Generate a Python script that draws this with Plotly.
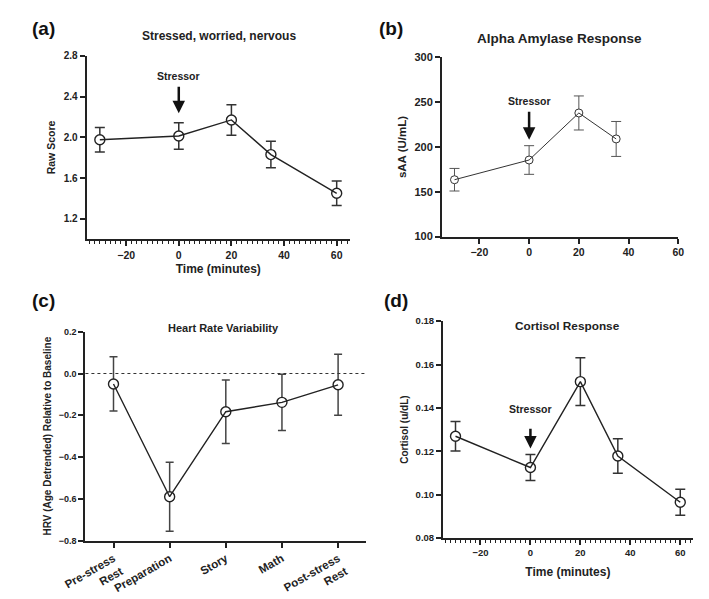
import plotly.graph_objects as go

W, H = 709, 599

# ---------------- data ----------------
time_a = [-30, 0, 20, 35, 60]
stress_mean = [1.975, 2.012, 2.17, 1.83, 1.45]
stress_err = [0.12, 0.13, 0.15, 0.13, 0.12]

time_b = [-30, 0, 20, 35]
saa_mean = [163.5, 185.5, 238, 209]
saa_err = [12.6, 16, 19, 19.5]

hrv_cats = ["Pre-stress<br>Rest", "Preparation", "Story", "Math", "Post-stress<br>Rest"]
hrv_mean = [-0.05, -0.59, -0.183, -0.138, -0.054]
hrv_err = [0.13, 0.165, 0.152, 0.135, 0.146]

time_d = [-30, 0, 20, 35, 60]
cort_mean = [0.1269, 0.1125, 0.1521, 0.1178, 0.0965]
cort_err = [0.0068, 0.006, 0.011, 0.0079, 0.006]

time_ticks = [-20, 0, 20, 40, 60]

FONT = "Liberation Sans, Arial, sans-serif"
INK = "#222222"

fig = go.Figure()


def dx(px):
    return px / W


def dy(px):
    return 1 - px / H


def add_series(x, y, err, xa, ya, msize, lw, ecol, ethick, ewidth, lcol=INK):
    fig.add_trace(go.Scatter(
        x=x, y=y, mode="markers", xaxis=xa, yaxis=ya, showlegend=False,
        marker=dict(size=msize, color="white", line=dict(color=lcol, width=lw)),
        error_y=dict(type="data", array=err, visible=True, color=ecol,
                     thickness=ethick, width=ewidth),
    ))
    fig.add_trace(go.Scatter(
        x=x, y=y, mode="lines", xaxis=xa, yaxis=ya, showlegend=False,
        line=dict(color=lcol, width=lw),
    ))


add_series(time_a, stress_mean, stress_err, "x", "y", 10, 1.4, "#333333", 1.5, 5)
add_series(time_b, saa_mean, saa_err, "x2", "y2", 8, 1.0, "#555555", 1.0, 5, lcol="#333333")
add_series(hrv_cats, hrv_mean, hrv_err, "x3", "y3", 10, 1.4, "#444444", 1.5, 4)
add_series(time_d, cort_mean, cort_err, "x4", "y4", 10, 1.4, "#333333", 1.5, 5)


def axis(domain, anchor, rng, tsize=10, title=None, tt_size=11, standoff=6, **kw):
    d = dict(
        domain=domain, anchor=anchor, range=rng,
        showline=True, linecolor=INK, linewidth=2, mirror=False,
        ticks="outside", ticklen=5, tickwidth=1.5, tickcolor=INK,
        showgrid=False, zeroline=False,
        tickfont=dict(family=FONT, size=tsize, color=INK, weight="bold"),
    )
    if title:
        d["title"] = dict(text="<b>%s</b>" % title, standoff=standoff,
                          font=dict(family=FONT, size=tt_size, color=INK))
    d.update(kw)
    return d


minor = dict(ticks="outside", dtick=2, ticklen=3, tickwidth=1, tickcolor=INK, showgrid=False)

fig.update_layout(
    width=W, height=H, margin=dict(l=0, r=0, t=0, b=0),
    paper_bgcolor="white", plot_bgcolor="white",
    font=dict(family=FONT, color=INK),
    xaxis=axis([dx(59), dx(333)], "y", [-35, 65], tsize=10.5, title="Time (minutes)",
               tt_size=12, standoff=5, tickvals=time_ticks, minor=minor),
    yaxis=axis([dy(233.3), dy(43.3)], "x", [1.0, 2.8], tsize=10, title="Raw Score",
               tt_size=10.5, standoff=6, tick0=1.2, dtick=0.4, tickformat=".1f"),
    xaxis2=axis([dx(429), dx(675)], "y2", [-35, 60], tsize=10.5, tickvals=time_ticks),
    yaxis2=axis([dy(230.7), dy(45)], "x2", [100, 300], tsize=11, title="sAA (U/mL)",
                tt_size=11.5, standoff=5, dtick=50),
    xaxis3=axis([dx(57.7), dx(350)], "y3", [-0.5, 4.5], tsize=11.5, type="category",
                tickangle=-30),
    yaxis3=axis([dy(545.7), dy(329.3)], "x3", [-0.8, 0.2], tsize=9,
                title="HRV (Age Detrended) Relative to Baseline", tt_size=10, standoff=5,
                dtick=0.2, tickformat=".1f"),
    xaxis4=axis([dx(430), dx(690)], "y4", [-35, 65], tsize=9.5, title="Time (minutes)",
                tt_size=12, standoff=10, tickvals=time_ticks, minor=minor),
    yaxis4=axis([dy(543), dy(318.3)], "x4", [0.08, 0.18], tsize=9.5, title="Cortisol (u/dL)",
                tt_size=10, standoff=5, dtick=0.02, tickformat=".2f"),
)

# zero reference line in panel (c)
fig.add_shape(type="line", xref="x3 domain", yref="y3", x0=0, x1=1, y0=0, y1=0,
              line=dict(color="#333333", width=1, dash="dot"))

anns = []
for txt, x, y in [("(a)", 0, 15), ("(b)", 361, 15), ("(c)", 0, 297), ("(d)", 366, 297)]:
    anns.append(dict(text="<b>%s</b>" % txt, xref="paper", yref="paper", x=dx(x), y=dy(y),
                     xanchor="left", yanchor="middle", showarrow=False,
                     font=dict(family=FONT, size=19, color="#111111")))
for txt, x, y, s in [("Stressed, worried, nervous", 197, 23, 12),
                     ("Alpha Amylase Response", 551.7, 25, 13.5),
                     ("Heart Rate Variability", 201.7, 325, 11),
                     ("Cortisol Response", 560, 323, 11.8)]:
    anns.append(dict(text="<b>%s</b>" % txt, xref="paper", yref="paper", x=dx(x), y=dy(y),
                     xanchor="center", yanchor="middle", showarrow=False,
                     font=dict(family=FONT, size=s, color=INK)))

for xr, yr, tip, tail, lab in [("x", "y", 2.236, 2.51, 2.60),
                               ("x2", "y2", 208, 241, 251.7),
                               ("x4", "y4", 0.1213, 0.1311, 0.1396)]:
    anns.append(dict(text="", x=0, y=tip, xref=xr, yref=yr, ax=0, ay=tail,
                     axref=xr, ayref=yr, showarrow=True, arrowhead=2, arrowsize=1,
                     arrowwidth=2.5, arrowcolor="#111111"))
    anns.append(dict(text="<b>Stressor</b>", x=0, y=lab, xref=xr, yref=yr,
                     showarrow=False, xanchor="center", yanchor="middle",
                     font=dict(family=FONT, size=10.5, color=INK)))

fig.update_layout(annotations=anns)

fig.write_html("out.html")
